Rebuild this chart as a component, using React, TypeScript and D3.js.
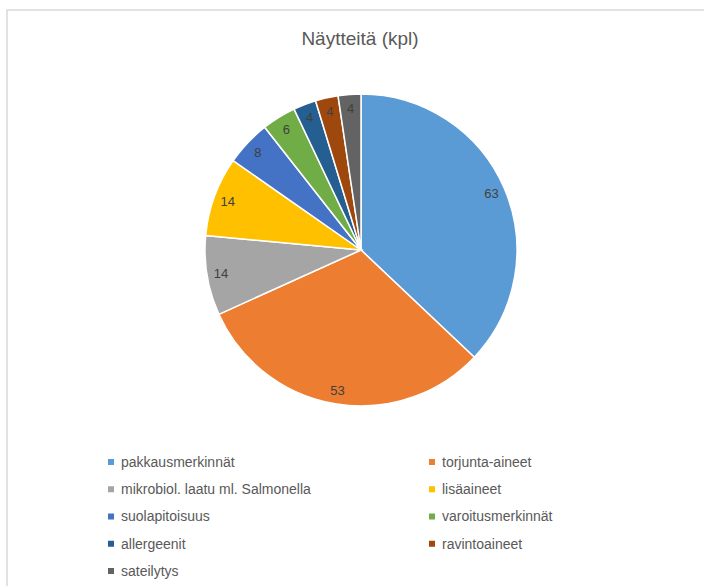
import { useRef, useEffect } from 'react';
import * as d3 from 'd3';

// Sample counts per inspection category
const CATEGORIES = [
  'pakkausmerkinnät',
  'torjunta-aineet',
  'mikrobiol. laatu ml. Salmonella',
  'lisäaineet',
  'suolapitoisuus',
  'varoitusmerkinnät',
  'allergeenit',
  'ravintoaineet',
  'sateilytys',
];
const VALUES = [63, 53, 14, 14, 8, 6, 4, 4, 4];
const COLORS = ['#5B9BD5', '#ED7D31', '#A5A5A5', '#FFC000', '#4472C4', '#70AD47', '#255E91', '#9E480E', '#636363'];
const TITLE = 'Näytteitä (kpl)';

const W = 704;
const H = 586;
const FONT = '"Liberation Sans", "DejaVu Sans", sans-serif';

type Slice = { name: string; value: number; color: string };

export default function App() {
  const svgRef = useRef<SVGSVGElement>(null);

  useEffect(() => {
    const svg = d3.select(svgRef.current);
    svg.selectAll('*').remove();

    // Chart frame
    svg.append('rect')
      .attr('x', 7).attr('y', 10)
      .attr('width', W + 10).attr('height', H + 10)
      .attr('fill', '#fff')
      .attr('stroke', '#d9d9d9').attr('stroke-width', 1.5);

    svg.append('text')
      .attr('x', 360).attr('y', 45)
      .attr('text-anchor', 'middle')
      .attr('font-family', FONT).attr('font-size', 19)
      .attr('fill', '#595959')
      .text(TITLE);

    const data: Slice[] = CATEGORIES.map((name, i) => ({ name, value: VALUES[i], color: COLORS[i] }));
    const cx = 361;
    const cy = 250;
    const r = 156;

    const pie = d3.pie<Slice>().value((d) => d.value).sort(null);
    const arcs = pie(data);
    const arc = d3.arc<d3.PieArcDatum<Slice>>().innerRadius(0).outerRadius(r);
    const labelArc = d3.arc<d3.PieArcDatum<Slice>>().innerRadius(r * 0.91).outerRadius(r * 0.91);

    const g = svg.append('g').attr('transform', `translate(${cx},${cy})`);
    g.selectAll('path.slice')
      .data(arcs)
      .join('path')
      .attr('class', 'slice')
      .attr('d', arc)
      .attr('fill', (d) => d.data.color)
      .attr('stroke', '#fff')
      .attr('stroke-width', 1.5);

    g.selectAll('text.lbl')
      .data(arcs)
      .join('text')
      .attr('class', 'lbl')
      .attr('transform', (d) => {
        const [x, y] = labelArc.centroid(d);
        return `translate(${x},${y})`;
      })
      .attr('text-anchor', 'middle')
      .attr('dy', '0.35em')
      .attr('font-family', FONT).attr('font-size', 13)
      .attr('fill', '#404040')
      .text((d) => d.data.value);

    // Legend: two columns, row-major
    const colX = d3.scaleOrdinal<number, number>().domain([0, 1]).range([111, 432]);
    const rowY = d3.scaleLinear().domain([0, 4]).range([462, 571]);
    const lg = svg.append('g');
    const items = lg.selectAll('g.item')
      .data(data)
      .join('g')
      .attr('class', 'item')
      .attr('transform', (_d, i) => `translate(${colX(i % 2)},${rowY(Math.floor(i / 2))})`);
    items.append('rect')
      .attr('x', -3).attr('y', -3)
      .attr('width', 6).attr('height', 6)
      .attr('fill', (d) => d.color);
    items.append('text')
      .attr('x', 10).attr('dy', '0.35em')
      .attr('font-family', FONT).attr('font-size', 14)
      .attr('fill', '#595959')
      .text((d) => d.name);
  }, []);

  return (
    <svg
      ref={svgRef}
      width={W}
      height={H}
      style={{ position: 'absolute', left: 0, top: 0, display: 'block' }}
    />
  );
}
